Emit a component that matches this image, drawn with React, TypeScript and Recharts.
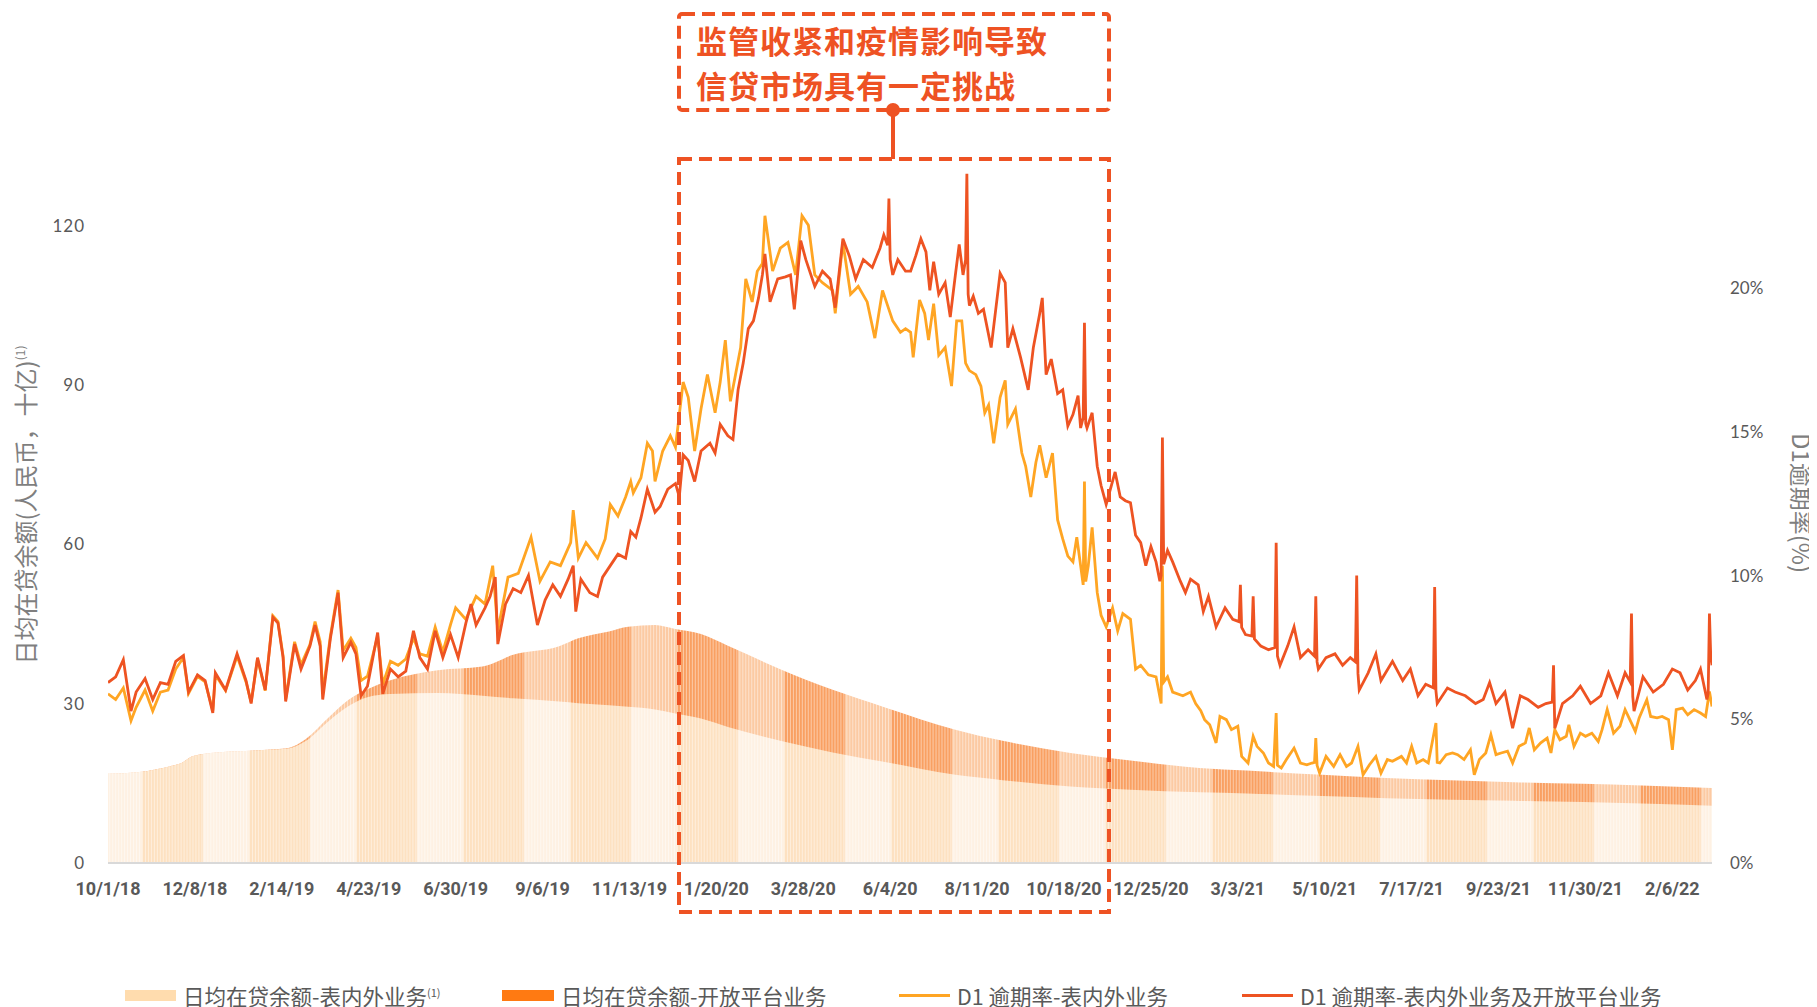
import { ComposedChart, Area, Line, XAxis, YAxis } from 'recharts';

// x axis: day index counted from 10/1/18, a label every 68 days
const xTickLabels = [
  '10/1/18', '12/8/18', '2/14/19', '4/23/19', '6/30/19', '9/6/19', '11/13/19', '1/20/20', '3/28/20', '6/4/20',
  '8/11/20', '10/18/20', '12/25/20', '3/3/21', '5/10/21', '7/17/21', '9/23/21', '11/30/21', '2/6/22',
];
const DAYS_PER_TICK = 68;
const LAST_DAY = 1255;

const leftTicks = [0, 30, 60, 90, 120];
const rightTicks = [0, 5, 10, 15, 20];

// 日均在贷余额 (十亿), sampled days
const areaDays = [0, 30, 50, 58, 66, 85, 115, 140, 155, 173, 188, 203, 221, 258, 293, 317, 353, 368, 392, 407, 428, 443, 464, 485, 526, 567, 608, 663, 700, 753, 800, 854, 891, 950, 1000, 1100, 1200, 1255];
const onBalance = [16.8, 17.3, 18.3, 18.9, 20.1, 20.8, 21.2, 21.5, 23.0, 26.8, 29.5, 31.2, 31.8, 32.0, 31.5, 31.0, 30.4, 30.1, 29.7, 29.4, 28.9, 28.2, 27.2, 25.6, 23.0, 20.8, 19.0, 16.6, 15.6, 14.4, 13.8, 13.3, 13.1, 12.6, 12.2, 11.7, 11.2, 10.8];
const openPlatform = [0, 0, 0, 0, 0, 0, 0, 0.1, 0.4, 0.7, 1.2, 1.5, 2.6, 4.3, 5.5, 8.2, 10.4, 12.2, 13.9, 15.1, 15.9, 15.9, 15.9, 15.3, 13.5, 11.8, 10.3, 8.5, 7.4, 6.3, 5.5, 4.6, 4.3, 4.0, 3.8, 3.5, 3.4, 3.3];

// D1 逾期率-表内外业务及开放平台业务 (%), [day, value]
const d1All: [number, number][] = [
  [0, 6.28], [6, 6.48], [12, 7.08], [18, 5.29], [22, 5.95], [29, 6.42], [35, 5.69], [41, 6.28], [47, 6.22], [53, 7.02],
  [59, 7.22], [63, 5.95], [70, 6.55], [76, 6.35], [82, 5.22], [84, 6.62], [92, 6.02], [101, 7.28], [108, 6.35], [112, 5.55],
  [117, 7.15], [123, 6.02], [129, 8.55], [133, 8.35], [137, 7.15], [139, 5.62], [146, 7.62], [151, 6.75], [158, 7.55], [162, 8.28],
  [166, 7.55], [168, 5.69], [174, 7.82], [180, 9.41], [184, 7.15], [190, 7.68], [194, 7.28], [198, 5.82], [203, 6.15], [211, 8.02],
  [215, 5.89], [221, 6.75], [227, 6.48], [233, 6.68], [239, 8.08], [244, 7.15], [250, 6.75], [256, 8.08], [262, 7.15], [268, 7.95],
  [274, 7.15], [280, 8.35], [284, 9.01], [288, 8.28], [295, 8.88], [299, 9.28], [303, 9.95], [305, 7.62], [311, 9.01], [317, 9.55],
  [323, 9.41], [329, 10.01], [336, 8.28], [342, 9.15], [348, 9.68], [354, 9.28], [360, 9.88], [364, 10.35], [366, 8.75], [370, 9.88],
  [377, 9.41], [383, 9.28], [387, 9.95], [393, 10.35], [399, 10.75], [405, 10.61], [409, 11.54], [413, 11.34], [417, 12.01], [422, 13.01],
  [428, 12.21], [432, 12.41], [438, 13.01], [444, 13.21], [447, 12.74], [450, 14.21], [454, 14.01], [459, 13.28], [464, 14.34], [471, 14.61],
  [475, 14.27], [479, 15.27], [485, 14.87], [489, 14.74], [493, 16.47], [497, 17.4], [501, 18.6], [505, 18.87], [509, 19.67], [512, 20.47],
  [514, 21.2], [518, 19.53], [524, 20.33], [530, 20.4], [534, 20.47], [537, 19.27], [542, 21.66], [546, 21.0], [553, 20.07], [559, 20.6],
  [565, 20.33], [569, 19.33], [575, 21.73], [580, 21.13], [585, 20.33], [591, 21.0], [598, 20.73], [604, 21.4], [607, 21.86], [610, 21.5],
  [611, 23.13], [612, 21.0], [614, 20.47], [618, 21.0], [624, 20.6], [628, 20.6], [632, 21.13], [636, 21.73], [640, 21.27], [643, 19.93],
  [646, 20.93], [650, 19.8], [655, 20.2], [659, 19.0], [663, 20.47], [666, 21.53], [669, 20.47], [671, 21.0], [672, 23.99], [673, 19.8],
  [674, 19.4], [677, 19.73], [681, 19.13], [685, 19.27], [691, 17.94], [698, 20.53], [702, 20.2], [704, 17.94], [708, 18.6], [714, 17.6],
  [720, 16.47], [724, 17.94], [729, 19.13], [731, 19.67], [734, 17.0], [738, 17.54], [743, 16.34], [747, 16.47], [751, 15.21], [755, 15.61],
  [759, 16.27], [761, 15.14], [763, 15.5], [764, 18.8], [765, 15.3], [766, 15.14], [770, 15.67], [774, 13.81], [777, 13.14], [781, 12.48],
  [788, 13.61], [792, 12.74], [796, 12.61], [800, 12.54], [804, 11.41], [808, 11.15], [812, 10.35], [816, 11.01], [820, 10.48], [823, 9.81],
  [824, 10.0], [825, 14.81], [826, 10.4], [829, 10.88], [833, 10.48], [839, 9.81], [843, 9.41], [847, 9.88], [853, 9.68], [857, 8.75],
  [861, 9.28], [867, 8.22], [874, 8.88], [880, 8.48], [885, 8.4], [886, 9.68], [887, 8.2], [890, 7.95], [895, 7.9], [896, 9.28],
  [897, 7.8], [902, 7.55], [908, 7.42], [913, 7.5], [914, 11.15], [915, 7.2], [917, 6.88], [923, 7.55], [928, 8.22], [933, 7.15],
  [939, 7.42], [944, 7.2], [945, 9.28], [946, 7.0], [947, 6.75], [953, 7.15], [960, 7.28], [966, 6.88], [972, 7.15], [976, 7.0],
  [977, 10.01], [978, 6.6], [979, 6.02], [986, 6.62], [992, 7.28], [996, 6.35], [1005, 7.02], [1013, 6.35], [1019, 6.75], [1025, 5.82],
  [1031, 6.22], [1037, 6.1], [1038, 9.61], [1039, 6.0], [1040, 5.55], [1048, 6.09], [1054, 5.95], [1062, 5.82], [1070, 5.55], [1076, 5.69],
  [1081, 6.28], [1086, 5.55], [1093, 5.95], [1099, 4.69], [1105, 5.82], [1111, 5.69], [1119, 5.42], [1125, 5.55], [1130, 5.6], [1131, 6.88],
  [1132, 4.69], [1138, 5.55], [1146, 5.82], [1152, 6.15], [1160, 5.55], [1168, 5.82], [1174, 6.62], [1181, 5.82], [1187, 6.62], [1191, 6.3],
  [1192, 8.68], [1193, 5.8], [1194, 5.29], [1201, 6.48], [1209, 5.95], [1217, 6.22], [1224, 6.75], [1230, 6.62], [1236, 6.02], [1242, 6.35],
  [1246, 6.75], [1251, 5.69], [1252, 5.9], [1253, 8.68], [1254, 7.2], [1255, 6.88],
];

// D1 逾期率-表内外业务 (%), [day, value]
const d1OnBs: [number, number][] = [
  [0, 5.89], [6, 5.69], [12, 6.09], [18, 4.95], [22, 5.42], [29, 6.02], [35, 5.29], [41, 5.95], [47, 6.02], [53, 6.75],
  [59, 7.15], [63, 5.9], [70, 6.5], [76, 6.3], [82, 5.3], [84, 6.55], [92, 6.0], [101, 7.2], [108, 6.3], [112, 5.6],
  [117, 7.1], [123, 6.0], [129, 8.6], [133, 8.4], [137, 7.2], [139, 5.7], [146, 7.7], [151, 6.9], [158, 7.6], [162, 8.4],
  [166, 7.7], [168, 5.9], [174, 7.9], [180, 9.5], [184, 7.4], [190, 7.82], [194, 7.5], [198, 6.35], [203, 6.5], [211, 7.9],
  [215, 6.22], [221, 7.02], [227, 6.88], [233, 7.1], [239, 7.82], [244, 7.28], [250, 7.2], [256, 8.21], [262, 7.35], [268, 8.3],
  [272, 8.88], [280, 8.48], [288, 9.28], [295, 9.01], [301, 10.35], [305, 8.08], [313, 9.95], [321, 10.08], [331, 11.34], [338, 9.81],
  [346, 10.48], [354, 10.35], [362, 11.15], [364, 12.28], [368, 10.61], [374, 11.15], [383, 10.61], [389, 11.28], [393, 12.48], [399, 12.08],
  [405, 12.74], [409, 13.28], [411, 12.88], [417, 13.41], [422, 14.61], [426, 14.34], [428, 13.28], [434, 14.34], [440, 14.87], [444, 14.47],
  [450, 16.74], [454, 16.21], [459, 14.34], [464, 15.81], [469, 17.0], [475, 15.67], [479, 16.74], [483, 18.2], [487, 16.07], [491, 17.0],
  [495, 17.94], [499, 20.33], [504, 19.53], [508, 20.6], [512, 20.87], [514, 22.53], [520, 20.6], [526, 21.4], [532, 21.6], [538, 20.47],
  [543, 22.53], [548, 22.2], [553, 20.47], [559, 20.2], [567, 19.93], [569, 19.13], [575, 21.6], [581, 19.8], [587, 20.07], [594, 19.53],
  [600, 18.27], [606, 19.93], [610, 19.4], [614, 18.87], [620, 18.47], [624, 18.6], [628, 18.47], [630, 17.6], [635, 19.6], [639, 19.13],
  [642, 18.2], [646, 19.47], [650, 17.67], [655, 17.94], [660, 16.6], [664, 18.87], [668, 18.87], [671, 17.4], [674, 17.14], [679, 17.0],
  [683, 16.6], [686, 15.67], [689, 15.94], [693, 14.61], [698, 16.21], [702, 16.8], [704, 15.27], [710, 15.81], [715, 14.27], [718, 13.81],
  [722, 12.74], [726, 13.94], [729, 14.54], [734, 13.41], [739, 14.27], [743, 11.94], [747, 11.28], [751, 10.68], [755, 10.48], [758, 11.34],
  [761, 10.35], [763, 9.68], [764, 13.28], [765, 9.8], [767, 10.35], [770, 11.68], [774, 9.41], [777, 8.62], [781, 8.22], [786, 8.88],
  [790, 8.08], [794, 8.68], [800, 8.48], [804, 6.75], [808, 6.88], [814, 6.55], [820, 6.48], [824, 5.55], [825, 10.35], [826, 6.3],
  [829, 6.48], [833, 5.95], [841, 5.82], [847, 5.95], [851, 5.55], [855, 5.3], [858, 4.99], [862, 4.81], [867, 4.18], [870, 5.1],
  [875, 4.99], [879, 4.64], [884, 4.76], [887, 3.71], [892, 3.48], [896, 4.41], [899, 4.06], [904, 3.83], [908, 3.48], [912, 3.36],
  [914, 5.22], [915, 3.4], [918, 3.31], [922, 3.6], [928, 4.0], [933, 3.48], [938, 3.42], [942, 3.48], [944, 3.5], [945, 4.35],
  [946, 3.4], [948, 3.13], [953, 3.71], [959, 3.36], [964, 3.77], [969, 3.36], [973, 3.48], [978, 4.06], [982, 3.07], [987, 3.42],
  [992, 3.71], [996, 3.13], [1001, 3.6], [1005, 3.54], [1012, 3.71], [1016, 3.48], [1020, 4.06], [1024, 3.48], [1029, 3.6], [1033, 3.48],
  [1039, 4.87], [1040, 3.5], [1042, 3.48], [1047, 3.77], [1052, 3.83], [1056, 3.77], [1061, 3.6], [1066, 3.94], [1069, 3.07], [1073, 3.6],
  [1078, 3.83], [1082, 4.47], [1086, 3.77], [1090, 3.83], [1095, 3.89], [1099, 3.48], [1104, 4.06], [1109, 4.18], [1112, 4.7], [1116, 3.94],
  [1121, 4.18], [1126, 4.35], [1129, 3.83], [1132, 4.64], [1136, 4.29], [1141, 4.41], [1143, 4.81], [1147, 4.06], [1152, 4.52], [1156, 4.41],
  [1161, 4.52], [1166, 4.23], [1169, 4.64], [1173, 5.34], [1178, 4.52], [1183, 4.76], [1187, 5.34], [1192, 4.87], [1195, 4.58], [1198, 5.05],
  [1204, 5.68], [1207, 5.1], [1212, 5.05], [1216, 5.1], [1221, 4.99], [1224, 3.94], [1227, 5.34], [1232, 5.39], [1236, 5.16], [1241, 5.34],
  [1246, 5.22], [1250, 5.1], [1253, 5.97], [1255, 5.45],
];

// merge everything into one table keyed by day
type Row = { d: number; onBs?: number; total?: number; rateAll?: number; rateBs?: number };
const rowMap = new Map<number, Row>();
const rowAt = (d: number) => {
  if (!rowMap.has(d)) rowMap.set(d, { d });
  return rowMap.get(d)!;
};
areaDays.forEach((d, i) => {
  const r = rowAt(d);
  r.onBs = onBalance[i];
  r.total = onBalance[i] + openPlatform[i];
});
d1All.forEach(([d, v]) => { rowAt(d).rateAll = v; });
d1OnBs.forEach(([d, v]) => { rowAt(d).rateBs = v; });
const chartData = [...rowMap.values()].sort((a, b) => a.d - b.d);

const xTicks = xTickLabels.map((_, i) => i * DAYS_PER_TICK);

const W = 1801;
const H = 999;
const RED = '#EE5322';
const ORANGE = '#FFA523';
const ANNO = '#EE5223';
const GREY = '#595959';
const CJK = '"Noto Sans CJK SC", sans-serif';

// striped fill, like thin daily bars that moire into bands
const BAND = 107;
const stripeXs = Array.from({ length: 36 }, (_, i) => (i * BAND) / 36);
const StripePattern = ({ id, dark, light }: { id: string; dark: string; light: string }) => (
  <pattern id={id} patternUnits="userSpaceOnUse" x={27} y={0} width={BAND} height={10}>
    <rect x={0} y={0} width={61} height={10} fill={dark} />
    <rect x={61} y={0} width={BAND - 61} height={10} fill={light} />
    {stripeXs.map((x) => (
      <rect key={x} x={x} y={0} width={0.9} height={10} fill="#fff" fillOpacity={0.5} />
    ))}
  </pattern>
);

const legendItems = [
  { label: '日均在贷余额-表内外业务', sup: true, left: 117, swatch: { width: 51, height: 11, color: '#FFDCAE' } },
  { label: '日均在贷余额-开放平台业务', sup: false, left: 494, swatch: { width: 52, height: 11, color: '#FF7A12' } },
  { label: 'D1 逾期率-表内外业务', sup: false, left: 891, swatch: { width: 51, height: 3, color: ORANGE } },
  { label: 'D1 逾期率-表内外业务及开放平台业务', sup: false, left: 1234, swatch: { width: 51, height: 3, color: RED } },
];

export default function App() {
  return (
    <div style={{ position: 'relative', width: W, height: H, background: '#fff', fontFamily: CJK }}>
      <svg width={0} height={0} style={{ position: 'absolute' }}>
        <defs>
          <StripePattern id="fillOpen" dark="#F9A062" light="#FCCAA3" />
          <StripePattern id="fillOnBs" dark="#FDE1C1" light="#FEF1E3" />
        </defs>
      </svg>

      <ComposedChart width={W} height={H} data={chartData} margin={{ top: 154, right: 22, bottom: 104, left: 20 }}>
        <XAxis
          type="number"
          dataKey="d"
          domain={[0, LAST_DAY]}
          ticks={xTicks}
          interval={0}
          allowDataOverflow
          tickFormatter={(v: number) => xTickLabels[Math.round(v / DAYS_PER_TICK)]}
          tickLine={false}
          tickMargin={13}
          axisLine={{ stroke: '#D9D9D9', strokeWidth: 2 }}
          tick={{ fill: GREY, fontSize: 18, fontWeight: 700, fontFamily: 'Roboto, sans-serif' }}
          height={40}
        />
        <YAxis
          yAxisId="left"
          domain={[0, 132]}
          ticks={leftTicks}
          allowDataOverflow
          axisLine={false}
          tickLine={false}
          tickMargin={17}
          tick={{ fill: GREY, fontSize: 17, fontFamily: 'Lato, sans-serif', letterSpacing: 1 }}
          width={80}
        />
        <YAxis
          yAxisId="right"
          orientation="right"
          domain={[0, 24.4]}
          ticks={rightTicks}
          allowDataOverflow
          tickFormatter={(v: number) => `${v}%`}
          axisLine={false}
          tickLine={false}
          tickMargin={12}
          tick={{ fill: GREY, fontSize: 17, fontFamily: 'Lato, sans-serif', textAnchor: 'start' }}
          width={75}
        />
        <Area yAxisId="left" type="monotone" dataKey="total" connectNulls stroke="none" fill="url(#fillOpen)" fillOpacity={1} isAnimationActive={false} />
        <Area yAxisId="left" type="monotone" dataKey="onBs" connectNulls stroke="none" fill="url(#fillOnBs)" fillOpacity={1} isAnimationActive={false} />
        <Line yAxisId="right" type="linear" dataKey="rateBs" connectNulls stroke={ORANGE} strokeWidth={2.8} dot={false} isAnimationActive={false} />
        <Line yAxisId="right" type="linear" dataKey="rateAll" connectNulls stroke={RED} strokeWidth={2.8} dot={false} isAnimationActive={false} />
      </ComposedChart>

      {/* axis titles and the annotation box */}
      <svg width={W} height={H} style={{ position: 'absolute', left: 0, top: 0, pointerEvents: 'none', overflow: 'visible' }}>
        <text transform="translate(27, 497) rotate(-90)" textAnchor="middle" fontSize={24} fill="#7F7F7F" fontFamily={CJK}>
          日均在贷余额(人民币，十亿)
          <tspan fontSize={12} dy={-10}>(1)</tspan>
        </text>
        <text transform="translate(1784, 495) rotate(90)" textAnchor="middle" fontSize={24} fill="#7F7F7F" fontFamily={CJK}>
          D1逾期率(%)
        </text>

        <rect x={671} y={151} width={430} height={753} fill="none" stroke={ANNO} strokeWidth={4} strokeDasharray="13 7" />
        <rect x={671} y={6} width={430} height={96} rx={3} fill="#fff" stroke={ANNO} strokeWidth={4} strokeDasharray="13 7" />
        <line x1={885} y1={102} x2={885} y2={151} stroke={ANNO} strokeWidth={4} />
        <circle cx={885} cy={102} r={7} fill={ANNO} />
      </svg>

      <div
        style={{
          position: 'absolute', left: 688, top: 9, fontSize: 31, lineHeight: '45px', fontWeight: 700,
          letterSpacing: 1, color: ANNO, fontFamily: CJK, whiteSpace: 'nowrap',
        }}
      >
        监管收紧和疫情影响导致
        <br />
        信贷市场具有一定挑战
      </div>

      {legendItems.map((item) => (
        <div
          key={item.label}
          style={{ position: 'absolute', left: item.left, top: 972, height: 30, display: 'flex', alignItems: 'center', whiteSpace: 'nowrap' }}
        >
          <div style={{ width: item.swatch.width, height: item.swatch.height, background: item.swatch.color, marginRight: 7 }} />
          <span style={{ fontSize: 21.5, color: GREY, fontFamily: CJK }}>
            {item.label}
            {item.sup && <sup style={{ fontSize: 11 }}>(1)</sup>}
          </span>
        </div>
      ))}
    </div>
  );
}
